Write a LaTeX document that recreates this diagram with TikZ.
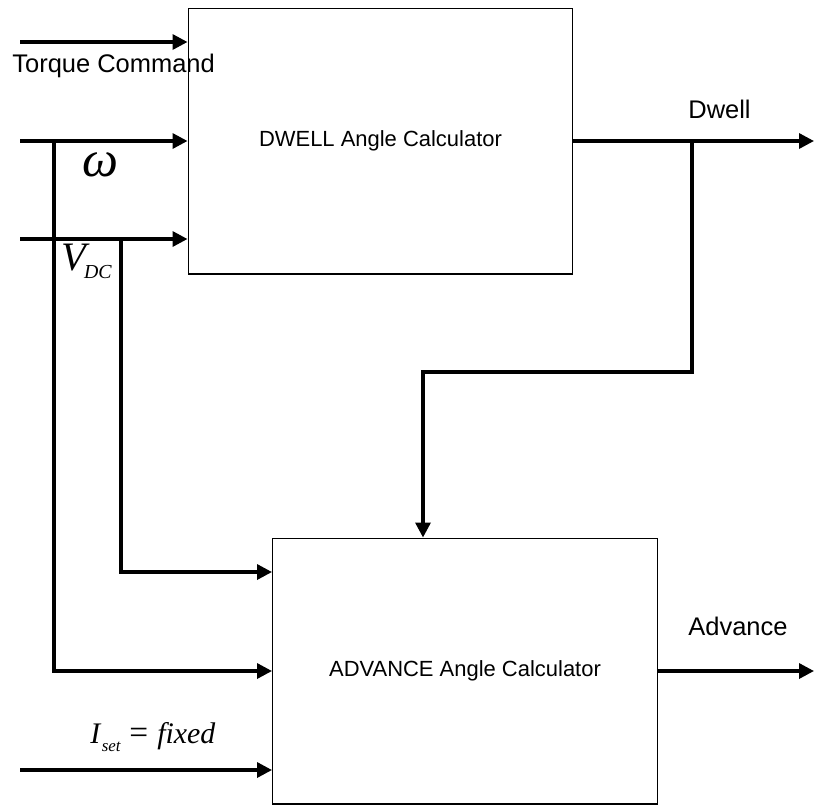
\documentclass[tikz,border=0pt]{standalone}
\usepackage{fontspec}
\setmainfont{Liberation Sans}
\newfontfamily\tnr{Liberation Serif}
\usetikzlibrary{arrows.meta}
\begin{document}
\begin{tikzpicture}[x=0.02cm,y=-0.02cm,
  wire/.style={line width=1.9pt},
  arr/.style={wire,-{Triangle[length=0.3cm,width=0.3cm]}},
  blk/.style={draw,line width=0.6pt,minimum width=7.7cm,minimum height=5.32cm,inner sep=0pt,font=\fontsize{12.5}{14}\selectfont},
  lab/.style={inner sep=0pt,anchor=base west,font=\fontsize{14.5}{16}\selectfont},
  mlab/.style={inner sep=0pt,anchor=base west}]
\useasboundingbox (0,0) rectangle (815,806);
% blocks
\node[blk] (dwell) at (380.5,141) {DWELL Angle Calculator};
\node[blk] (adv) at (465,671) {ADVANCE Angle Calculator};
% input / junction coordinates
\coordinate (tin) at (20,42);
\coordinate (win) at (20,141);
\coordinate (vin) at (20,239);
\coordinate (iin) at (20,770);
\coordinate (jw) at (54,141);
\coordinate (jv) at (121,239);
\coordinate (jd) at (692,141);
\coordinate (dturn) at (692,372);
\coordinate (dturn2) at (423,372);
\coordinate (dout) at (814,141);
\coordinate (aout) at (814,671);
% top inputs
\draw[arr] (tin) -- (tin -| dwell.west);
\draw[arr] (win) -- (win -| dwell.west);
\draw[arr] (vin) -- (vin -| dwell.west);
% branches to advance block
\draw[arr] (jv) |- (jv |- 0,572) -- (adv.west |- 0,572);
\draw[arr] (jw) |- (jw |- 0,671) -- (adv.west |- 0,671);
\draw[arr] (iin) -- (iin -| adv.west);
% outputs
\draw[arr] (dwell.east |- dout) -- (dout);
\draw[arr] (jd) -- (dturn) -- (dturn2) -- (dturn2 |- adv.north);
\draw[arr] (adv.east |- aout) -- (aout);
% labels
\node[lab] (tq) at (12,72) {Torque Command};
\node[lab] (dw) at (688,118) {Dwell};
\node[lab] (ad) at (688,635) {Advance};
\node[mlab] (om) at (82,176) {\tnr\itshape\fontsize{29}{29}\selectfont ω};
\node[mlab] (vdc) at (61,270) {\tnr\itshape\fontsize{23}{23}\selectfont V\kern-0.05em\raisebox{-0.22em}{\fontsize{11.3}{12}\selectfont DC}};
\node[mlab] (iset) at (90,743) {\tnr\itshape\fontsize{17}{17}\selectfont I\kern0.05em\raisebox{-0.3em}{\fontsize{9.6}{10}\selectfont set}\kern0.3em{\upshape\fontsize{19}{19}\selectfont =}\kern0.3em fixed};
\end{tikzpicture}
\end{document}
